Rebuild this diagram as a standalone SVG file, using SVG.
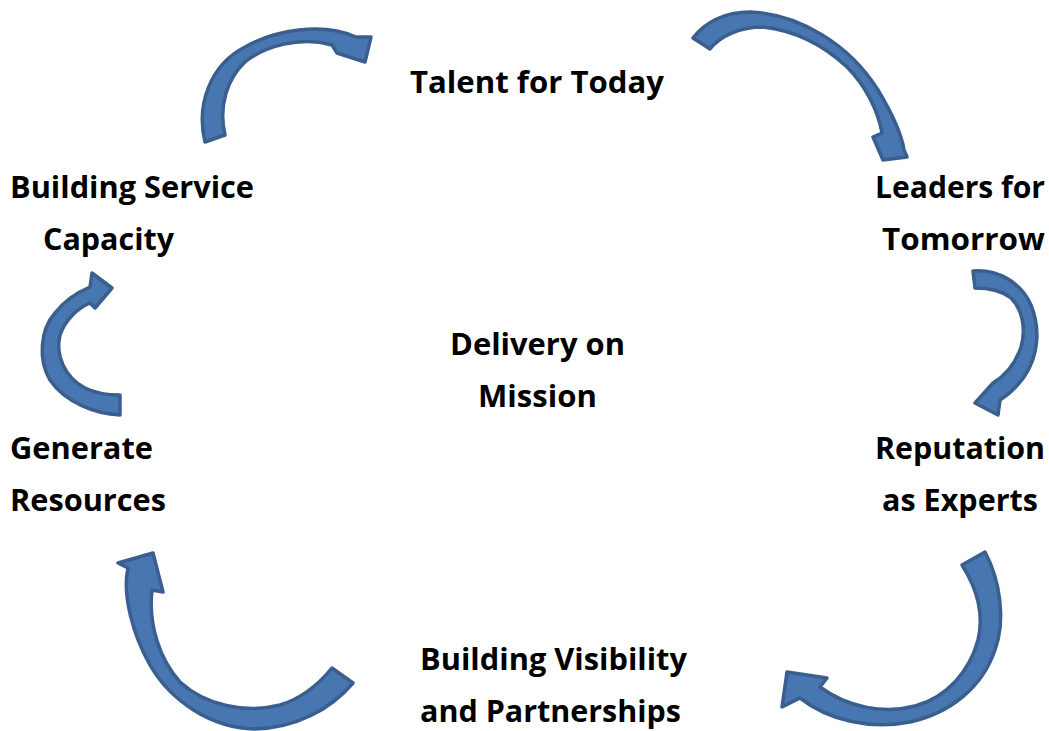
<svg xmlns="http://www.w3.org/2000/svg" width="1049" height="731" viewBox="0 0 1049 731">
<style>
.lbl{font-family:"Open Sans","Liberation Sans",sans-serif;font-weight:700;font-size:30px;fill:#000}
.arr{fill:#4876b1;stroke:#3a5f8e;stroke-width:3.5;stroke-linejoin:round}
</style>
<rect width="1049" height="731" fill="#fff"/>
<g id="connectors">
<path class="arr" d="M205,142 C196,105 210,65 245,47 C275,30 322,22 356,37 L371,37 L365,62 L337,53 L332,45 C300,36 265,46 245,62 C228,78 218,105 225,135 Z"/>
<path class="arr" d="M693,38 C705,22 725,12 750,12 C800,14 850,45 878,90 C893,115 902,137 904,150 L907,157 L883,160 L873,137 L882,133 C878,110 865,85 847,67 C820,42 790,30 763,27 C740,27 720,36 710,49 Z"/>
<path class="arr" d="M973,271 C997,269 1021,282 1031,305 C1041,330 1038,357 1024,377 C1016,388 1008,395 1000,400 L998,415 L975,403 L993,383 C1006,375 1016,362 1021,347 C1026,330 1023,310 1011,298 C1001,290 988,288 975,288 Z"/>
<path class="arr" d="M985,552 C1000,580 1006,620 995,650 C982,688 950,713 910,722 C870,730 828,720 800,698 L782,707 L787,672 L827,678 L820,687 C848,708 885,714 915,706 C948,697 970,670 978,640 C984,615 978,590 962,565 Z"/>
<path class="arr" d="M353,683 C330,710 295,728 255,729 C210,728 170,700 150,665 C133,635 122,595 128,568 L118,563 L153,553 L163,592 L152,590 C148,625 160,660 180,682 C205,705 245,714 280,705 C300,699 318,685 332,668 Z"/>
<path class="arr" d="M120,415 C95,414 65,402 50,380 C38,360 40,330 55,313 C65,300 78,292 90,287 L92,273 L112,288 L95,308 L90,303 C78,308 65,320 60,335 C55,355 65,378 85,388 C95,393 108,395 120,395 Z"/>
</g>
<g id="talent"><text class="lbl" x="410" y="93" textLength="254" lengthAdjust="spacingAndGlyphs">Talent for Today</text></g>
<g id="leaders">
<text class="lbl" x="875" y="198" textLength="170" lengthAdjust="spacingAndGlyphs">Leaders for</text>
<text class="lbl" x="882" y="250" textLength="163" lengthAdjust="spacingAndGlyphs">Tomorrow</text>
</g>
<g id="reputation">
<text class="lbl" x="875" y="459" textLength="170" lengthAdjust="spacingAndGlyphs">Reputation</text>
<text class="lbl" x="882" y="511" textLength="156" lengthAdjust="spacingAndGlyphs">as Experts</text>
</g>
<g id="visibility">
<text class="lbl" x="420" y="670" textLength="267" lengthAdjust="spacingAndGlyphs">Building Visibility</text>
<text class="lbl" x="420" y="722" textLength="261" lengthAdjust="spacingAndGlyphs">and Partnerships</text>
</g>
<g id="resources">
<text class="lbl" x="10" y="459" textLength="143" lengthAdjust="spacingAndGlyphs">Generate</text>
<text class="lbl" x="10" y="511" textLength="156" lengthAdjust="spacingAndGlyphs">Resources</text>
</g>
<g id="service">
<text class="lbl" x="10" y="198" textLength="244" lengthAdjust="spacingAndGlyphs">Building Service</text>
<text class="lbl" x="43" y="250" textLength="131" lengthAdjust="spacingAndGlyphs">Capacity</text>
</g>
<g id="mission">
<text class="lbl" x="450" y="355" textLength="175" lengthAdjust="spacingAndGlyphs">Delivery on</text>
<text class="lbl" x="478" y="407" textLength="119" lengthAdjust="spacingAndGlyphs">Mission</text>
</g>
</svg>
